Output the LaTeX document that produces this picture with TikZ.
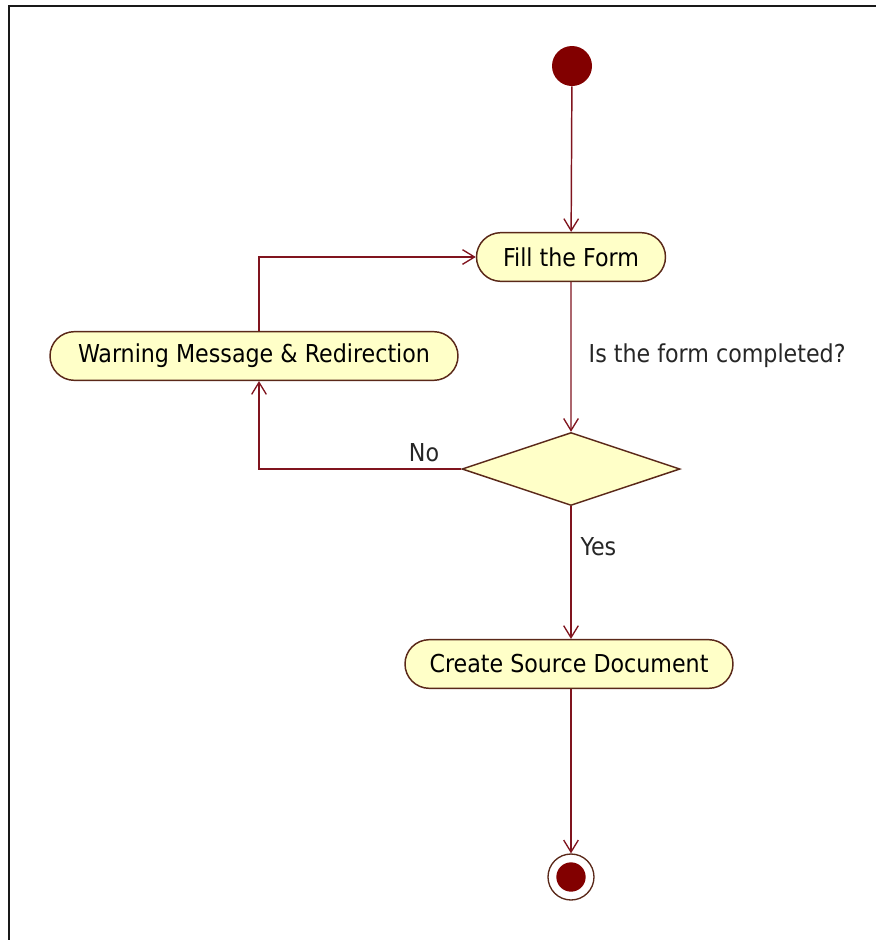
\documentclass[tikz,border=0pt]{standalone}
\usepackage{fontspec}
\setmainfont{DejaVu Sans Condensed}
\usetikzlibrary{shapes.geometric,shapes.misc,arrows.meta}
\definecolor{flowline}{RGB}{128,20,30}
\definecolor{edgebrown}{RGB}{90,40,25}
\definecolor{actfill}{RGB}{255,255,200}
\definecolor{dotred}{RGB}{130,0,0}
\begin{document}
\begin{tikzpicture}[x=0.75pt,y=-0.75pt,
  every node/.style={font=\fontsize{18.5}{22}\selectfont},
  activity/.style={rounded rectangle, draw=edgebrown, fill=actfill,
    line width=1.1pt, minimum height=36.5pt, inner xsep=0pt},
  decision/.style={diamond, draw=edgebrown, fill=actfill, line width=1.1pt,
    minimum width=163.5pt, minimum height=54.75pt, inner sep=0pt},
  flow/.style={draw=flowline, line width=1.1pt,
    -{Straight Barb[length=9pt,width=11pt,line width=1pt]}},
  guard/.style={text=black!85}]
  \useasboundingbox (0,0) rectangle (876,940);
  % sheet border (top and left edges)
  \draw[line width=2.2pt, black!90] (9,940) -- (9,6) -- (876,6);

  % initial and final states
  \node[circle, fill=dotred, minimum size=30pt, inner sep=0pt] (start) at (572,66) {};
  \node[circle, draw=edgebrown, line width=1pt, fill=white, minimum size=34.5pt, inner sep=0pt] (final) at (571,877) {};
  \node[circle, fill=dotred, minimum size=22pt, inner sep=0pt] (finaldot) at (final.center) {};

  % activities and decision
  \node[activity, minimum width=141.75pt] (fill) at (571,257) {Fill the Form};
  \node[activity, minimum width=306pt] (warn) at (254,356) {Warning Message \& Redirection};
  \node[decision] (check) at (571,469) {};
  \node[activity, minimum width=246pt] (create) at (569,664) {Create Source Document};

  % connectors
  \coordinate (loopx) at (259,0);
  \draw[flow] (start) -- (fill);
  \draw[flow] (fill) -- (check);
  \draw[flow] (check.west) -| (warn.south -| loopx);
  \draw[flow] (warn.north -| loopx) |- (fill.west);
  \draw[flow] (check.south) -- (create.north -| check.south);
  \draw[flow] (create.south -| final.north) -- (final.north);

  % guards and labels
  \node[guard, anchor=west] (question) at (584,356) {Is the form completed?};
  \node[guard] (no) at (424,453) {No};
  \node[guard, anchor=west] (yes) at (576,547) {Yes};
\end{tikzpicture}
\end{document}
